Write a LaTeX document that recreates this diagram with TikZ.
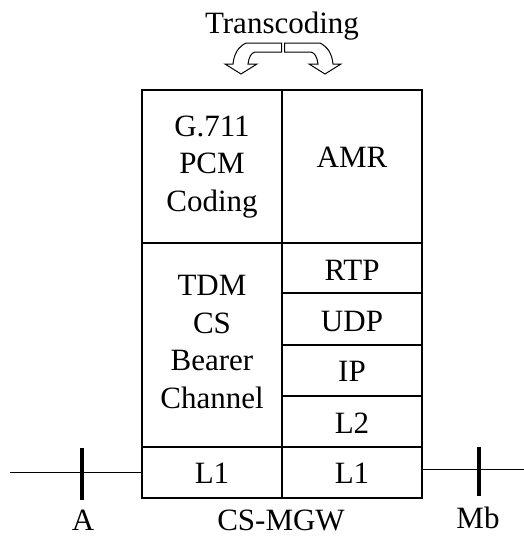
\documentclass[tikz,border=0pt]{standalone}
\usepackage{fontspec}
\setmainfont{Liberation Serif}
\begin{document}
\begin{tikzpicture}[x=1pt,y=-1pt,
  cell/.style={draw,line width=1.3pt,inner sep=0pt},
  txt/.style={inner sep=0pt,align=center,font=\fontsize{31}{37.6}\selectfont},
  lab/.style={inner sep=0pt,font=\fontsize{31}{37.6}\selectfont},
  wire/.style={line width=1pt},
  tick/.style={line width=3.6pt},
  harrow/.style={draw,line width=1pt,fill=white,line join=miter}]
\useasboundingbox (0,0) rectangle (524,538);
% cells
\draw[cell] (142,90) rectangle (282,243);
\draw[cell] (282,90) rectangle (422,243);
\draw[cell] (142,243) rectangle (282,447);
\draw[cell] (282,243) rectangle (422,293);
\draw[cell] (282,293) rectangle (422,345);
\draw[cell] (282,345) rectangle (422,396);
\draw[cell] (282,396) rectangle (422,447);
\draw[cell] (142,447) rectangle (282,498);
\draw[cell] (282,447) rectangle (422,498);
% texts
\node[txt] (g711) at (212,167) {G.711\\PCM\\Coding};
\node[txt] (amr) at (352,157) {AMR};
\node[txt] (tdm) at (212,342) {TDM\\CS\\Bearer\\Channel};
\node[txt] (rtp) at (352,270) {RTP};
\node[txt] (udp) at (352,321) {UDP};
\node[txt] (ip) at (352,371) {IP};
\node[txt] (l2) at (352,423) {L2};
\node[txt] (l1a) at (212,473) {L1};
\node[txt] (l1b) at (352,473) {L1};
\node[lab] (lA) at (83,520) {A};
\node[lab] (lcs) at (281,520) {CS-MGW};
\node[lab] (lmb) at (478,518) {Mb};
\node[lab] (trans) at (282,26) {Transcoding};
% wires
\coordinate (wl) at (10,472);
\coordinate (wlb) at (142,472);
\coordinate (wr) at (524,469);
\coordinate (wrb) at (422,469);
\draw[wire] (wl) -- (wlb);
\draw[wire] (wrb) -- (wr);
\coordinate (ta1) at (82,448);
\coordinate (ta2) at (82,500);
\coordinate (tb1) at (479,447);
\coordinate (tb2) at (479,496);
\draw[tick] (ta1) -- (ta2);
\draw[tick] (tb1) -- (tb2);
% transcoding arrows
\draw[harrow] (281.5,43) -- (246,43) .. controls (238,47) and (234,54) .. (233,64)
  -- (225,64) -- (241,74) -- (257,64) -- (248,64)
  .. controls (249,57) and (251,53) .. (255,52) -- (281.5,52) -- cycle;
\draw[harrow] (284.5,43) -- (320,43) .. controls (328,47) and (332,54) .. (333,64)
  -- (341,64) -- (325,74) -- (309,64) -- (318,64)
  .. controls (317,57) and (315,53) .. (311,52) -- (284.5,52) -- cycle;
\end{tikzpicture}
\end{document}
